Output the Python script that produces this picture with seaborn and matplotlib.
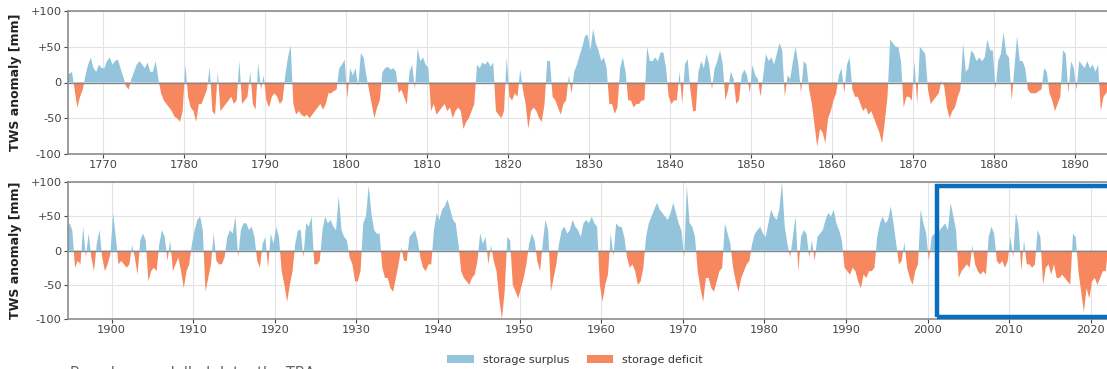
import numpy as np
import pandas as pd
import matplotlib
matplotlib.use("Agg")
import matplotlib.pyplot as plt
import seaborn as sns
from matplotlib.patches import Patch, Rectangle

# ---------------- data (3 samples per year) ----------------
years_top = list(range(1765, 1895))
tws_top = [
    5, 10, 12,  15, -10, -35,  -20, -10, 10,  25, 35, 20,  15, 25, 20,
    20, 30, 35,  25, 30, 32,  20, 8, -5,  -10, 5, 15,  25, 30, 25,
    20, 28, 15,  15, 30, 5,  -15, -25, -30,  -35, -40, -48,  -50, -55, -40,
    25, -20, -35,  -40, -55, -30,  -30, -20, -10,  22, -40, -45,  15, -40, -35,
    -30, -25, -20,  -30, -25, 30,  -30, -25, -20,  15, -30, -38,  27, -10, 10,
    -25, -35, -20,  -15, -20, -30,  -25, 10, 35,  52, -30, -45,  -40, -45, -48,
    -45, -50, -45,  -40, -35, -30,  -38, -30, -15,  -15, -12, -10,  20, 25, 32,
    -22, 20, 10,  20, -5, 41,  35, 10, -10,  -30, -50, -35,  -25, 15, 20,
    22, 18, 20,  15, -15, -10,  -20, -31, 15,  25, -10, 48,  30, 35, 25,
    20, -40, -30,  -45, -40, -35,  -30, -40, -35,  -50, -40, -35,  -40, -65, -55,
    -50, -40, -30,  25, 20, 28,  25, 30, 22,  28, -40, -45,  -50, -40, 35,
    -20, -25, -15,  -20, 18, -10,  -30, -65, -40,  -35, -40, -50,  -55, -30, 30,
    30, -20, -25,  -35, -45, -30,  -25, 10, -15,  15, 25, 38,  50, 65, 67,
    45, 75, 55,  45, 30, 35,  20, -30, -30,  -44, -35, 20,  35, 15, -25,
    -25, -35, -30,  -30, -25, -25,  50, 30, 30,  35, 30, 42,  42, 20, -20,
    -30, -25, -25,  15, -30, 25,  33, -10, -40,  -40, 15, 30,  20, 40, 25,
    -10, 20, 30,  45, 25, -25,  -10, 15, 5,  -30, -25, 10,  18, 10, -15,
    25, 10, 5,  -20, 10, 40,  30, 35, 25,  40, 55, 45,  -20, 10, 5,
    30, 50, 25,  -15, 30, 25,  -10, -30, -60,  -90, -65, -70,  -85, -50, -40,
    -25, -15, 10,  20, -15, 25,  35, -10, -20,  -20, -30, -40,  -35, -45, -40,
    -50, -60, -70,  -85, -55, -20,  60, 55, 50,  50, 30, -35,  -20, -20, -25,
    30, -30, 50,  45, 40, -10,  -30, -25, -20,  -15, 3, -5,  -35, -50, -40,
    -35, -20, -10,  55, 15, 20,  45, 40, 30,  35, 30, 35,  60, 45, 45,
    -10, 30, 40,  70, 40, 35,  -25, 20, 65,  30, 30, 20,  -10, -15, -15,
    -15, -12, -10,  20, 15, -15,  -25, -40, -30,  -20, 45, 40,  -15, 30, 20,
    -10, 30, 25,  20, 30, 20,  25, 15, 25,  -40, -20, -15,  -10, -5, 5,
]

years_bottom = list(range(1894, 2023))
tws_bottom = [
    30, 35, 40,  30, -25, -15,  -20, 35, -10,  25, -10, -30,  10, 30, -10,
    -30, -20, -5,  55, 20, -20,  -15, -20, -25,  -20, 8, -10,  -35, 15, 25,
    15, -45, -30,  -25, -30, 10,  30, 20, -15,  15, -30, -20,  -10, -30, -55,
    -30, -20, 10,  30, 45, 50,  30, -60, -40,  -20, 25, -15,  -20, -20, -10,
    20, 30, 25,  50, -10, 30,  40, 40, 30,  35, 20, -15,  -25, 10, 20,
    -25, 25, 10,  35, 20, -30,  -50, -75, -50,  -30, 10, 30,  30, -10, 40,
    35, 50, -20,  -20, -15, 30,  50, 40, 45,  35, 30, 80,  30, 20, 15,
    -10, -20, -45,  -45, -30, 40,  50, 95, 55,  30, 25, 25,  -25, -40, -40,
    -55, -60, -40,  -20, 5, -15,  -15, 20, 25,  30, 15, -10,  -25, -30, -20,
    -20, 30, 55,  45, 60, 65,  75, 60, 45,  40, 10, -30,  -40, -45, -50,
    -40, -35, -15,  25, 10, 20,  -20, 8, -15,  -30, -70, -100,  -60, 20, 15,
    -50, -60, -70,  -55, -40, -20,  10, 25, 15,  -15, -30, 10,  45, 30, -60,
    -40, -20, 10,  30, 35, 25,  30, 45, 35,  30, 20, 40,  45, 40, 50,
    40, 35, -50,  -75, -50, -35,  25, -8, 40,  35, 35, 20,  -10, -25, -20,
    -30, -50, -45,  -25, 20, 40,  50, 60, 70,  60, 55, 50,  45, 55, 70,
    55, 40, 30,  -10, 95, 40,  35, 20, -30,  -55, -75, -40,  -40, -55, -60,
    -45, -30, -25,  40, 25, 10,  -25, -45, -60,  -40, -30, -20,  -15, 10, 25,
    30, 35, 25,  20, 40, 60,  50, 45, 60,  100, 35, 10,  -10, 20, 50,
    -30, 20, 30,  25, -10, 15,  -15, 20, 25,  30, 45, 55,  50, 60, 40,
    30, 15, -25,  -30, -35, -25,  -30, -45, -55,  -35, -40, -30,  -30, -25, 20,
    40, 50, 40,  45, 65, 40,  10, -20, -15,  12, -25, -40,  -50, -30, -20,
    60, 40, 25,  -15, 20, 25,  20, 30, 35,  40, 30, 70,  50, 30, -40,
    -30, -25, -20,  -25, 8, -20,  -30, -35, -30,  -35, 20, 35,  25, -15, -20,
    -15, -25, -15,  20, -10, 55,  35, -30, 15,  -20, -20, -25,  -20, 30, 20,
    -50, -25, -20,  -35, -20, -40,  -40, -35, -40,  -45, -50, 25,  20, -30, -60,
    -90, -55, -70,  -45, -40, -50,  -40, -30, -30,  3, -20, -10,
]

y_ticks = [-100, -50, 0, 50, 100]
y_tick_labels = ["-100", "-50", "0", "+50", "+100"]
legend_labels = ["storage surplus", "storage deficit"]

SURPLUS = "#93c4dc"
DEFICIT = "#f7875f"


def to_frame(years, values):
    assert len(values) == 3 * len(years), (len(values), len(years))
    t = np.array([y + (k + 0.5) / 3 for y in years for k in range(3)])
    return pd.DataFrame({"time": t, "tws": np.array(values, dtype=float)})


df_top = to_frame(years_top, tws_top)
df_bot = to_frame(years_bottom, tws_bottom)

# ---------------- styling ----------------
sns.set_theme(style="whitegrid")
plt.rcParams["font.family"] = ["DejaVu Sans"]

W, H = 1107, 369
fig = plt.figure(figsize=(W / 100, H / 100), dpi=100)
ax1 = fig.add_axes([68 / W, 1 - 154 / H, (1110 - 68) / W, (154 - 11) / H])
ax2 = fig.add_axes([68 / W, 1 - 319 / H, (1110 - 68) / W, (319 - 182.3) / H])


def draw(ax, df, xlim, decades):
    sns.lineplot(data=df, x="time", y="tws", ax=ax, lw=0, color=SURPLUS)
    t = df["time"].to_numpy()
    v = df["tws"].to_numpy()
    ax.fill_between(t, v, 0, where=v >= 0, interpolate=True, color=SURPLUS, lw=0)
    ax.fill_between(t, v, 0, where=v < 0, interpolate=True, color=DEFICIT, lw=0)
    ax.axhline(0, color="#7d8a94", lw=1.0, zorder=3)
    ax.set_xlim(*xlim)
    ax.set_ylim(-100, 100)
    ax.set_yticks(y_ticks)
    ax.set_yticklabels(y_tick_labels)
    ax.set_xticks(decades)
    ax.set_xticklabels([str(d) for d in decades])
    ax.set_xlabel("")
    ax.set_ylabel("TWS anomaly [mm]", fontsize=9, fontweight="bold", color="#222222")
    ax.yaxis.set_label_coords(-0.044, 0.5)
    ax.tick_params(axis="both", labelsize=8.2, colors="#444444", length=3,
                   width=0.8, pad=1.5, left=True, bottom=True)
    ax.grid(True, color="#e3e3e3", lw=0.8)
    for s in ax.spines.values():
        s.set_color("#8c8c8c")
        s.set_linewidth(1.2)


draw(ax1, df_top, (1765.68, 1894.3), list(range(1770, 1891, 10)))
draw(ax2, df_bot, (1894.64, 2022.37), list(range(1900, 2021, 10)))

# highlight box
rect = Rectangle((2001.2, -96.5), 25, 190.5, fill=False, edgecolor="#0a6ebf",
                 lw=3.2, clip_on=False, zorder=5)
ax2.add_patch(rect)

# legend
handles = [Patch(facecolor=SURPLUS, edgecolor="none"),
           Patch(facecolor=DEFICIT, edgecolor="none")]
fig.legend(handles, legend_labels, loc="center", bbox_to_anchor=(575 / W, 1 - 360 / H),
           ncol=2, frameon=False, fontsize=8, handlelength=2.4, handleheight=0.65,
           columnspacing=1.6, handletextpad=0.8, labelcolor="#333333")

# caption that is cut off at the bottom edge, as in the reference
fig.text(70 / W, 1 - 365.5 / H, "Based on modelled data, the TBA", fontsize=10.5,
         color="#666666", va="top", ha="left")

fig.savefig("out.png", dpi=100)
